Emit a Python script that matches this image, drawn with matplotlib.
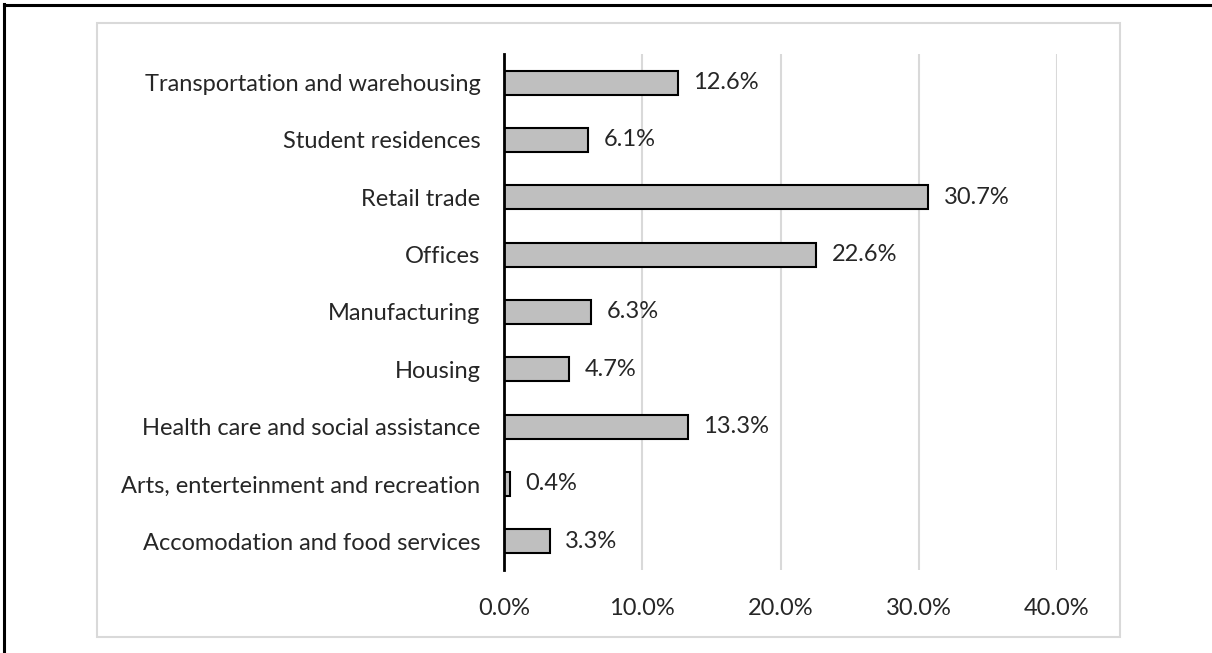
import matplotlib.pyplot as plt
from matplotlib.patches import Rectangle
from matplotlib.lines import Line2D
from matplotlib.ticker import FuncFormatter

# data (bottom to top)
categories = [
    "Accomodation and food services",
    "Arts, enterteinment and recreation",
    "Health care and social assistance",
    "Housing",
    "Manufacturing",
    "Offices",
    "Retail trade",
    "Student residences",
    "Transportation and warehousing",
]
shares = [3.3, 0.4, 13.3, 4.7, 6.3, 22.6, 30.7, 6.1, 12.6]
x_ticks = [0, 10, 20, 30, 40]

plt.rcParams['font.family'] = ['Lato', 'DejaVu Sans']

W, H = 1212, 653
fig = plt.figure(figsize=(W / 100, H / 100), dpi=100)

# outer frame: only top and left lines visible
fig.add_artist(Line2D([4 / W, 4 / W], [0, 1 - 4 / H], transform=fig.transFigure,
                      color='black', lw=2.2))
fig.add_artist(Line2D([4 / W, 1], [1 - 5 / H, 1 - 5 / H], transform=fig.transFigure,
                      color='black', lw=2.2))
# chart area box
fig.add_artist(Rectangle((97 / W, 1 - 637 / H), 1023 / W, 614 / H,
                         transform=fig.transFigure, fill=False,
                         edgecolor='#d9d9d9', lw=1.5))

ax = fig.add_axes([504 / W, 1 - 570 / H, 553 / W, 516 / H])

y = range(len(categories))
bars = ax.barh(y, shares, height=0.42, color='#bfbfbf', edgecolor='black',
               linewidth=1.5, zorder=3)
ax.bar_label(bars, labels=[f"{v:.1f}%" for v in shares], padding=11,
             fontsize=17, color='#262626')

ax.set_xlim(0, 40)
ax.set_ylim(-0.5, len(categories) - 0.5)
ax.set_xticks(x_ticks)
ax.xaxis.set_major_formatter(FuncFormatter(lambda v, p: f"{v:.1f}%"))
ax.set_yticks(list(y))
ax.set_yticklabels(categories)

ax.grid(axis='x', color='#d9d9d9', lw=1.5, zorder=0)
for s in ['top', 'right', 'bottom']:
    ax.spines[s].set_visible(False)
ax.spines['left'].set_linewidth(2)
ax.spines['left'].set_zorder(4)
ax.tick_params(axis='both', length=0, labelsize=17, colors='#262626')
ax.tick_params(axis='x', pad=20)
ax.tick_params(axis='y', pad=17)

fig.savefig('out.png', dpi=100)
